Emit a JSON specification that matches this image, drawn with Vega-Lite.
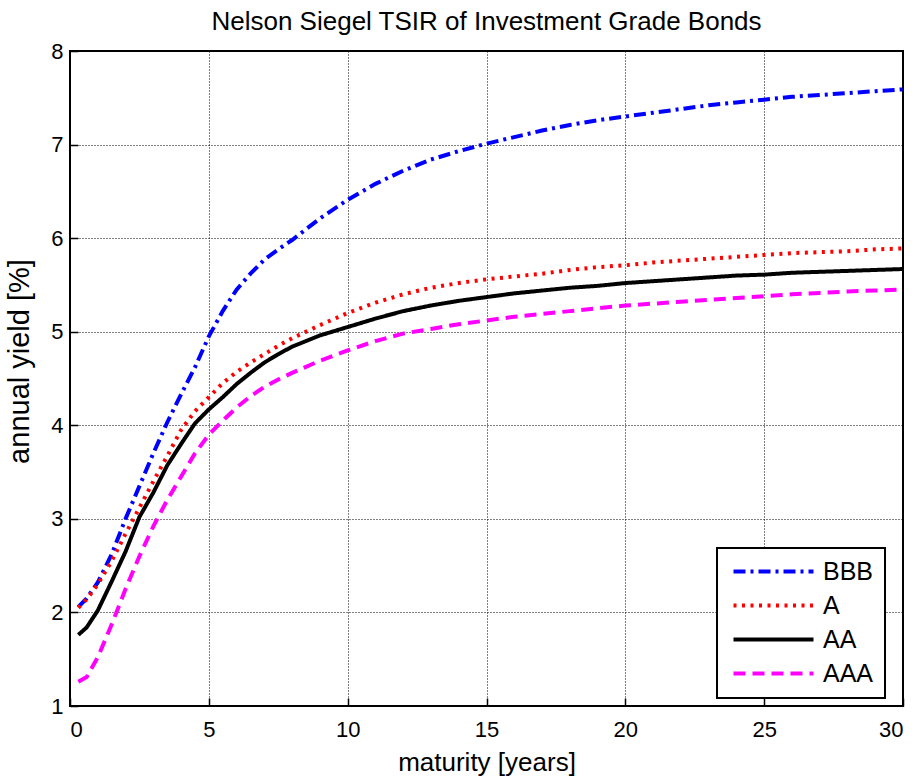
{
  "$schema": "https://vega.github.io/schema/vega-lite/v6.json",
  "width": 833,
  "height": 655,
  "autosize": {"type": "none"},
  "padding": {"left": 70, "top": 51, "right": 19, "bottom": 72},
  "background": "white",
  "title": {
    "text": "Nelson Siegel TSIR of Investment Grade Bonds",
    "font": "Liberation Sans",
    "fontSize": 26,
    "fontWeight": "normal",
    "color": "black",
    "offset": 5,
    "anchor": "middle"
  },
  "config": {
    "view": {"stroke": "black", "strokeWidth": 2},
    "axis": {
      "domain": false,
      "ticks": true,
      "tickSize": -8,
      "tickColor": "black",
      "tickWidth": 1.5,
      "grid": true,
      "gridColor": "black",
      "gridDash": [1, 2],
      "gridWidth": 1,
      "gridOpacity": 1,
      "labelFont": "Liberation Sans",
      "labelFontSize": 22,
      "labelColor": "black",
      "titleFont": "Liberation Sans",
      "titleFontWeight": "normal",
      "titleColor": "black"
    },
    "legend": {
      "orient": "none",
      "legendX": 647,
      "legendY": 497,
      "strokeColor": "black",
      "strokeWidth": 2,
      "fillColor": "white",
      "padding": 11,
      "symbolType": "M-8,0H8",
      "symbolSize": 100,
      "symbolOffset": 33,
      "symbolStrokeWidth": 4,
      "labelFont": "Liberation Sans",
      "labelFontSize": 25,
      "labelColor": "black",
      "labelOffset": 37,
      "rowPadding": 8
    }
  },
  "data": {
    "values": [
      {"t": 0.3, "r": "BBB", "y": 2.06}, {"t": 0.6, "r": "BBB", "y": 2.15}, {"t": 1, "r": "BBB", "y": 2.32}, {"t": 1.5, "r": "BBB", "y": 2.62}, {"t": 2, "r": "BBB", "y": 3.0}, {"t": 2.5, "r": "BBB", "y": 3.35}, {"t": 3, "r": "BBB", "y": 3.7}, {"t": 3.5, "r": "BBB", "y": 4.03}, {"t": 4, "r": "BBB", "y": 4.33}, {"t": 4.5, "r": "BBB", "y": 4.62}, {"t": 5, "r": "BBB", "y": 4.95}, {"t": 5.5, "r": "BBB", "y": 5.22}, {"t": 6, "r": "BBB", "y": 5.45}, {"t": 6.5, "r": "BBB", "y": 5.62}, {"t": 7, "r": "BBB", "y": 5.77}, {"t": 7.5, "r": "BBB", "y": 5.88}, {"t": 8, "r": "BBB", "y": 5.98}, {"t": 9, "r": "BBB", "y": 6.21}, {"t": 10, "r": "BBB", "y": 6.41}, {"t": 11, "r": "BBB", "y": 6.58}, {"t": 12, "r": "BBB", "y": 6.72}, {"t": 13, "r": "BBB", "y": 6.84}, {"t": 14, "r": "BBB", "y": 6.93}, {"t": 15, "r": "BBB", "y": 7.01}, {"t": 16, "r": "BBB", "y": 7.08}, {"t": 17, "r": "BBB", "y": 7.15}, {"t": 18, "r": "BBB", "y": 7.21}, {"t": 19, "r": "BBB", "y": 7.26}, {"t": 20, "r": "BBB", "y": 7.3}, {"t": 21, "r": "BBB", "y": 7.34}, {"t": 22, "r": "BBB", "y": 7.38}, {"t": 23, "r": "BBB", "y": 7.42}, {"t": 24, "r": "BBB", "y": 7.45}, {"t": 25, "r": "BBB", "y": 7.48}, {"t": 26, "r": "BBB", "y": 7.51}, {"t": 27, "r": "BBB", "y": 7.53}, {"t": 28, "r": "BBB", "y": 7.55}, {"t": 29, "r": "BBB", "y": 7.57}, {"t": 30, "r": "BBB", "y": 7.59},
      {"t": 0.3, "r": "A", "y": 2.05}, {"t": 0.6, "r": "A", "y": 2.14}, {"t": 1, "r": "A", "y": 2.3}, {"t": 1.5, "r": "A", "y": 2.55}, {"t": 2, "r": "A", "y": 2.84}, {"t": 2.5, "r": "A", "y": 3.12}, {"t": 3, "r": "A", "y": 3.4}, {"t": 3.5, "r": "A", "y": 3.67}, {"t": 4, "r": "A", "y": 3.95}, {"t": 4.5, "r": "A", "y": 4.15}, {"t": 5, "r": "A", "y": 4.3}, {"t": 5.5, "r": "A", "y": 4.45}, {"t": 6, "r": "A", "y": 4.57}, {"t": 6.5, "r": "A", "y": 4.67}, {"t": 7, "r": "A", "y": 4.76}, {"t": 7.5, "r": "A", "y": 4.85}, {"t": 8, "r": "A", "y": 4.93}, {"t": 9, "r": "A", "y": 5.07}, {"t": 10, "r": "A", "y": 5.2}, {"t": 11, "r": "A", "y": 5.31}, {"t": 12, "r": "A", "y": 5.4}, {"t": 13, "r": "A", "y": 5.47}, {"t": 14, "r": "A", "y": 5.52}, {"t": 15, "r": "A", "y": 5.56}, {"t": 16, "r": "A", "y": 5.59}, {"t": 17, "r": "A", "y": 5.62}, {"t": 18, "r": "A", "y": 5.66}, {"t": 19, "r": "A", "y": 5.69}, {"t": 20, "r": "A", "y": 5.71}, {"t": 21, "r": "A", "y": 5.74}, {"t": 22, "r": "A", "y": 5.76}, {"t": 23, "r": "A", "y": 5.78}, {"t": 24, "r": "A", "y": 5.8}, {"t": 25, "r": "A", "y": 5.82}, {"t": 26, "r": "A", "y": 5.84}, {"t": 27, "r": "A", "y": 5.85}, {"t": 28, "r": "A", "y": 5.86}, {"t": 29, "r": "A", "y": 5.88}, {"t": 30, "r": "A", "y": 5.89},
      {"t": 0.3, "r": "AA", "y": 1.76}, {"t": 0.6, "r": "AA", "y": 1.84}, {"t": 1, "r": "AA", "y": 2.02}, {"t": 1.5, "r": "AA", "y": 2.33}, {"t": 2, "r": "AA", "y": 2.65}, {"t": 2.5, "r": "AA", "y": 3.02}, {"t": 3, "r": "AA", "y": 3.28}, {"t": 3.5, "r": "AA", "y": 3.57}, {"t": 4, "r": "AA", "y": 3.8}, {"t": 4.5, "r": "AA", "y": 4.02}, {"t": 5, "r": "AA", "y": 4.17}, {"t": 5.5, "r": "AA", "y": 4.3}, {"t": 6, "r": "AA", "y": 4.44}, {"t": 6.5, "r": "AA", "y": 4.56}, {"t": 7, "r": "AA", "y": 4.67}, {"t": 7.5, "r": "AA", "y": 4.76}, {"t": 8, "r": "AA", "y": 4.84}, {"t": 9, "r": "AA", "y": 4.96}, {"t": 10, "r": "AA", "y": 5.05}, {"t": 11, "r": "AA", "y": 5.14}, {"t": 12, "r": "AA", "y": 5.22}, {"t": 13, "r": "AA", "y": 5.28}, {"t": 14, "r": "AA", "y": 5.33}, {"t": 15, "r": "AA", "y": 5.37}, {"t": 16, "r": "AA", "y": 5.41}, {"t": 17, "r": "AA", "y": 5.44}, {"t": 18, "r": "AA", "y": 5.47}, {"t": 19, "r": "AA", "y": 5.49}, {"t": 20, "r": "AA", "y": 5.52}, {"t": 21, "r": "AA", "y": 5.54}, {"t": 22, "r": "AA", "y": 5.56}, {"t": 23, "r": "AA", "y": 5.58}, {"t": 24, "r": "AA", "y": 5.6}, {"t": 25, "r": "AA", "y": 5.61}, {"t": 26, "r": "AA", "y": 5.63}, {"t": 27, "r": "AA", "y": 5.64}, {"t": 28, "r": "AA", "y": 5.65}, {"t": 29, "r": "AA", "y": 5.66}, {"t": 30, "r": "AA", "y": 5.67},
      {"t": 0.3, "r": "AAA", "y": 1.26}, {"t": 0.6, "r": "AAA", "y": 1.31}, {"t": 1, "r": "AAA", "y": 1.52}, {"t": 1.5, "r": "AAA", "y": 1.87}, {"t": 2, "r": "AAA", "y": 2.25}, {"t": 2.5, "r": "AAA", "y": 2.6}, {"t": 3, "r": "AAA", "y": 2.92}, {"t": 3.5, "r": "AAA", "y": 3.2}, {"t": 4, "r": "AAA", "y": 3.45}, {"t": 4.5, "r": "AAA", "y": 3.7}, {"t": 5, "r": "AAA", "y": 3.9}, {"t": 5.5, "r": "AAA", "y": 4.05}, {"t": 6, "r": "AAA", "y": 4.19}, {"t": 6.5, "r": "AAA", "y": 4.31}, {"t": 7, "r": "AAA", "y": 4.41}, {"t": 7.5, "r": "AAA", "y": 4.49}, {"t": 8, "r": "AAA", "y": 4.56}, {"t": 9, "r": "AAA", "y": 4.69}, {"t": 10, "r": "AAA", "y": 4.8}, {"t": 11, "r": "AAA", "y": 4.9}, {"t": 12, "r": "AAA", "y": 4.98}, {"t": 13, "r": "AAA", "y": 5.03}, {"t": 14, "r": "AAA", "y": 5.08}, {"t": 15, "r": "AAA", "y": 5.12}, {"t": 16, "r": "AAA", "y": 5.16}, {"t": 17, "r": "AAA", "y": 5.19}, {"t": 18, "r": "AAA", "y": 5.22}, {"t": 19, "r": "AAA", "y": 5.25}, {"t": 20, "r": "AAA", "y": 5.28}, {"t": 21, "r": "AAA", "y": 5.3}, {"t": 22, "r": "AAA", "y": 5.32}, {"t": 23, "r": "AAA", "y": 5.34}, {"t": 24, "r": "AAA", "y": 5.36}, {"t": 25, "r": "AAA", "y": 5.38}, {"t": 26, "r": "AAA", "y": 5.4}, {"t": 27, "r": "AAA", "y": 5.415}, {"t": 28, "r": "AAA", "y": 5.43}, {"t": 29, "r": "AAA", "y": 5.44}, {"t": 30, "r": "AAA", "y": 5.45}
    ]
  },
  "mark": {"type": "line", "strokeWidth": 4, "strokeCap": "butt", "clip": true},
  "encoding": {
    "x": {
      "field": "t",
      "type": "quantitative",
      "scale": {"domain": [0, 30], "nice": false, "zero": false},
      "axis": {"values": [0, 5, 10, 15, 20, 25, 30], "title": "maturity [years]", "titleFontSize": 26, "labelPadding": 21.5, "titlePadding": 9}
    },
    "y": {
      "field": "y",
      "type": "quantitative",
      "scale": {"domain": [1, 8], "nice": false, "zero": false},
      "axis": {"values": [1, 2, 3, 4, 5, 6, 7, 8], "title": "annual yield [%]", "titleFontSize": 29, "titleY": 310, "labelPadding": 15, "titlePadding": 16}
    },
    "color": {
      "field": "r",
      "type": "nominal",
      "title": null,
      "scale": {"domain": ["BBB", "A", "AA", "AAA"], "range": ["#0000ff", "#ff0000", "#000000", "#ff00ff"]}
    },
    "strokeDash": {
      "field": "r",
      "type": "nominal",
      "title": null,
      "scale": {"domain": ["BBB", "A", "AA", "AAA"], "range": [[12, 5, 3, 5], [3, 5.5], [1, 0], [12, 7]]}
    }
  }
}
